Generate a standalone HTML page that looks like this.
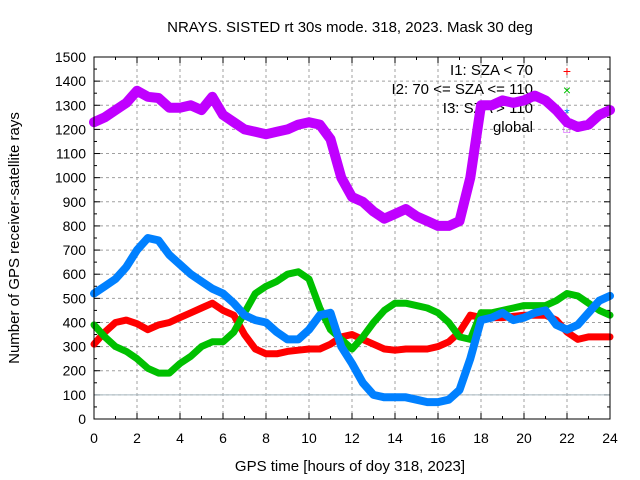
<!DOCTYPE html>
<html><head><meta charset="utf-8"><style>
body{margin:0;background:#fff;}
svg{display:block;font-family:"Liberation Sans",sans-serif;}
</style></head><body>
<svg id="chart" width="640" height="480"></svg>
<script>
const xTicks=[0,2,4,6,8,10,12,14,16,18,20,22,24];
const yTicks=[0,100,200,300,400,500,600,700,800,900,1000,1100,1200,1300,1400,1500];
const hours=[0,0.5,1,1.5,2,2.5,3,3.5,4,4.5,5,5.5,6,6.5,7,7.5,8,8.5,9,9.5,10,10.5,11,11.5,12,12.5,13,13.5,14,14.5,15,15.5,16,16.5,17,17.5,18,18.5,19,19.5,20,20.5,21,21.5,22,22.5,23,23.5,24];
const redVals=[310,360,400,410,395,370,390,400,420,440,460,480,450,430,350,290,270,270,280,285,290,290,310,340,350,330,310,290,285,290,290,290,300,320,360,430,420,420,420,425,430,430,430,410,360,330,340,340,340];
const greenVals=[390,340,300,280,250,210,190,190,230,260,300,320,320,360,440,520,550,570,600,610,580,460,370,330,290,340,400,450,480,480,470,460,440,400,340,330,440,440,450,460,470,470,470,490,520,510,480,450,430];
const blueVals=[520,550,580,630,700,750,740,680,640,600,570,540,520,480,430,410,400,360,330,330,370,430,440,300,230,150,100,90,90,90,80,70,70,80,120,250,410,420,440,410,420,440,450,390,370,390,440,490,510];
const globalVals=[1230,1250,1280,1310,1360,1335,1330,1290,1290,1300,1280,1335,1260,1230,1200,1190,1180,1190,1200,1220,1230,1220,1160,1000,920,900,860,830,850,870,840,820,800,800,820,1000,1300,1300,1320,1310,1320,1340,1320,1280,1230,1210,1220,1260,1280];
const refLine=100;

const NS="http://www.w3.org/2000/svg";
const svg=document.getElementById('chart');
const L=94,R=610,T=57,B=419;
const sx=h=>L+(h/24)*(R-L);
const sy=v=>B-(v/1500)*(B-T);
function mk(tag,attrs,parent){const e=document.createElementNS(NS,tag);for(const k in attrs)e.setAttribute(k,attrs[k]);(parent||svg).appendChild(e);return e;}

const grid=mk('g',{});


xTicks.forEach(t=>{if(t>0&&t<24)mk('line',{x1:sx(t),x2:sx(t),y1:T,y2:B,stroke:'#a0a0a0','stroke-dasharray':'3,3','stroke-width':1},grid);});
yTicks.forEach(t=>{if(t>0&&t<1500)mk('line',{x1:L,x2:R,y1:sy(t),y2:sy(t),stroke:'#a0a0a0','stroke-dasharray':'3,3','stroke-width':1},grid);});

const xl=mk('g',{});


for(let h=0;h<=24;h++){const len=h%2===0?6:3;mk('line',{x1:sx(h),x2:sx(h),y1:B,y2:B-len,stroke:'#000'},xl);mk('line',{x1:sx(h),x2:sx(h),y1:T,y2:T+len,stroke:'#000'},xl);}
xTicks.forEach(t=>{const e=mk('text',{x:sx(t),y:443,'text-anchor':'middle','font-size':14},xl);e.textContent=t;});
const yl=mk('g',{});


for(let v=0;v<=1500;v+=50){const len=v%100===0?6:3;mk('line',{x1:L,x2:L+len,y1:sy(v),y2:sy(v),stroke:'#000'},yl);mk('line',{x1:R,x2:R-len,y1:sy(v),y2:sy(v),stroke:'#000'},yl);}
yTicks.forEach(t=>{const e=mk('text',{x:L-8,y:sy(t)+5,'text-anchor':'end','font-size':14},yl);e.textContent=t;});

const rl=mk('line',{x1:L,x2:R,y1:sy(refLine),y2:sy(refLine),stroke:'#a8b8c0','stroke-width':1});



const leg=mk('g',{'font-size':15});


const legItems=[['I1: SZA < 70','+','#ff0000'],['I2: 70 <= SZA <= 110','\u00d7','#00c000'],['I3: SZA > 110','*','#0080ff'],['global','\u25a1','#c000ff']];
legItems.forEach((it,i)=>{const y=75+i*19;const t=mk('text',{x:533,y:y,'text-anchor':'end'},leg);t.textContent=it[0];const s=mk('text',{x:567,y:y+(it[1]==='*'?5:1),'text-anchor':'middle',fill:it[2],'font-size':it[1]==='\u25a1'?11:14},leg);s.textContent=it[1];});

function series(vals,color,w,name){const pts=hours.map((h,i)=>sx(h).toFixed(1)+','+sy(vals[i]).toFixed(1)).join(' ');const p=mk('polyline',{points:pts,fill:'none',stroke:color,'stroke-width':w,'stroke-linejoin':'round','stroke-linecap':'round'});}
series(redVals,'#ff0000',7,'series-i1');
series(greenVals,'#00c000',7,'series-i2');
series(blueVals,'#0080ff',8,'series-i3');
series(globalVals,'#c000ff',10,'series-global');

const bd=mk('rect',{x:L,y:T,width:R-L,height:B-T,fill:'none',stroke:'#000','stroke-width':1});



const title=mk('text',{x:350,y:32,'text-anchor':'middle','font-size':15});


title.textContent='NRAYS. SISTED rt 30s mode. 318, 2023. Mask 30 deg';
const xt=mk('text',{x:350,y:471,'text-anchor':'middle','font-size':15});


xt.textContent='GPS time [hours of doy 318, 2023]';
const yt=mk('text',{x:0,y:0,'text-anchor':'middle','font-size':15,transform:'translate(19,238) rotate(-90)'});


yt.textContent='Number of GPS receiver-satellite rays';
</script>
</body></html>
